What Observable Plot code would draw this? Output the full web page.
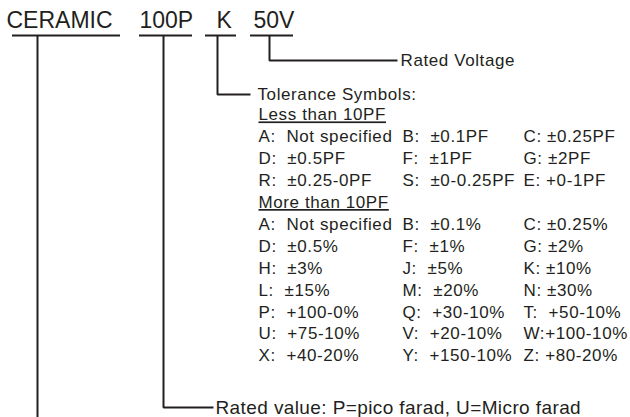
<!DOCTYPE html>
<html><head><meta charset="utf-8">
<script src="https://cdn.jsdelivr.net/npm/d3@7"></script>
<script src="https://cdn.jsdelivr.net/npm/@observablehq/plot@0.6"></script>
<style>
html,body{margin:0;padding:0;background:#fff;}
svg text{white-space:pre;}
</style></head><body><div id="chart"></div>
<script>
// ---- content ----
const codes = ["CERAMIC", "100P", "K", "50V"];
const meanings = [null, "Rated value: P=pico farad, U=Micro farad", "Tolerance Symbols:", "Rated Voltage"];
const headings = ["Less than 10PF", "More than 10PF"];
const lessThan10PF = [
  ["A:  Not specified", "B:  ±0.1PF", "C: ±0.25PF"],
  ["D:  ±0.5PF", "F:  ±1PF", "G: ±2PF"],
  ["R:  ±0.25-0PF", "S:  ±0-0.25PF", "E: +0-1PF"]
];
const moreThan10PF = [
  ["A:  Not specified", "B:  ±0.1%", "C: ±0.25%"],
  ["D:  ±0.5%", "F:  ±1%", "G: ±2%"],
  ["H:  ±3%", "J:  ±5%", "K: ±10%"],
  ["L:  ±15%", "M:  ±20%", "N: ±30%"],
  ["P:  +100-0%", "Q:  +30-10%", "T:  +50-10%"],
  ["U:  +75-10%", "V:  +20-10%", "W:+100-10%"],
  ["X:  +40-20%", "Y:  +150-10%", "Z: +80-20%"]
];

// ---- layout (pixels) ----
const layout = {
  codeBaseline: 27,
  codeX: [6, 139, 216, 253],
  underlineY: 35,
  underline: [[12, 120], [139, 192], [205, 236], [250, 293]],
  stemX: [37, 163, 217, 269],
  elbowY: [417, 407, 94, 60],
  elbowEnd: [37, 213, 250, 397],
  meaningX: [null, 215, 257, 400],
  meaningSize: [17, 19, 17, 17],
  rowBase: 98, rowPitch: 21.9,
  colX: [258, 402, 523]
};
const ink = "#231f20";
const font = "'Liberation Sans', Arial, Helvetica, sans-serif";

// build tables
const codeRows = codes.map((c, i) => ({text: c, x: layout.codeX[i], y: layout.codeBaseline}));
const underlines = codes.map((c, i) => ({x1: layout.underline[i][0], x2: layout.underline[i][1], y: layout.underlineY}));
const connectors = codes.flatMap((c, i) => [
  {k: c, x: layout.stemX[i], y: layout.underlineY},
  {k: c, x: layout.stemX[i], y: layout.elbowY[i]},
  {k: c, x: layout.elbowEnd[i], y: layout.elbowY[i]}
]);
const meaningRows = meanings.map((m, i) => m && ({text: m, x: layout.meaningX[i], y: layout.elbowY[i], size: layout.meaningSize[i]})).filter(Boolean);

const tableRows = [];
let r = 1;
tableRows.push({text: headings[0], x: layout.colX[0], y: layout.rowBase + r * layout.rowPitch}); r++;
for (const row of lessThan10PF) { row.forEach((t, j) => tableRows.push({text: t, x: layout.colX[j], y: layout.rowBase + r * layout.rowPitch})); r++; }
tableRows.push({text: headings[1], x: layout.colX[0], y: layout.rowBase + r * layout.rowPitch}); r++;
for (const row of moreThan10PF) { row.forEach((t, j) => tableRows.push({text: t, x: layout.colX[j], y: layout.rowBase + r * layout.rowPitch})); r++; }

const chart = Plot.plot({
  width: 630, height: 417, margin: 0,
  x: {type: "identity", axis: null},
  y: {type: "identity", axis: null},
  style: {fontFamily: font, color: ink, background: "white", letterSpacing: "0.6px"},
  marks: [
    Plot.ruleY(underlines, {x1: "x1", x2: "x2", y: "y", stroke: ink, strokeWidth: 2}),
    Plot.line(connectors, {x: "x", y: "y", z: "k", stroke: ink, strokeWidth: 2, strokeLinejoin: "miter", strokeLinecap: "butt"}),
    Plot.text(codeRows, {x: "x", y: "y", text: "text", textAnchor: "start", lineAnchor: "bottom", fontSize: 23, fill: ink}),
    ...meaningRows.map(m => Plot.text([m], {x: "x", y: "y", text: "text", textAnchor: "start", lineAnchor: "middle", fontSize: m.size, fill: ink})),
    Plot.text(tableRows, {x: "x", y: "y", text: "text", textAnchor: "start", lineAnchor: "bottom", fontSize: 17, fill: ink})
  ]
});
d3.select(chart).selectAll("text")
  .filter(function() { return codes.includes(this.textContent); })
  .style("letter-spacing", "0px");
d3.select(chart).selectAll("text")
  .filter(function() { return this.textContent === meanings[1]; })
  .style("letter-spacing", "0.4px");
d3.select(chart).selectAll("text")
  .filter(function() { return headings.includes(this.textContent); })
  .style("text-decoration", "underline");
document.getElementById("chart").appendChild(chart);
</script></body></html>
